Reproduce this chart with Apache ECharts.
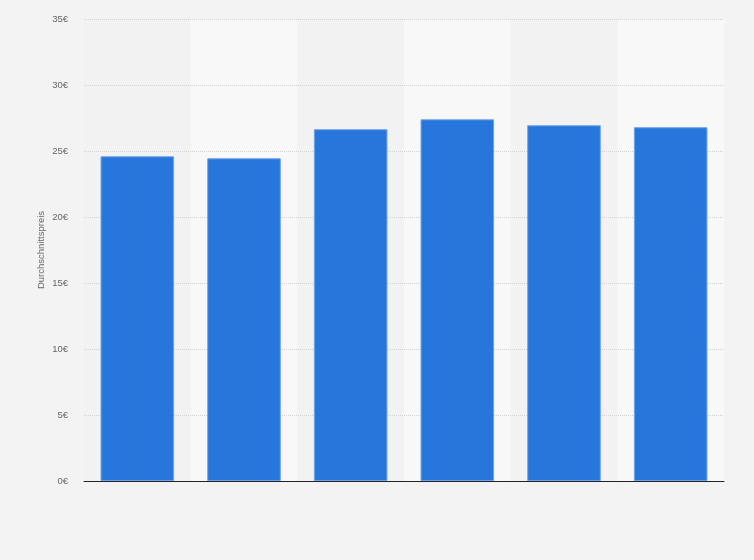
<!DOCTYPE html>
<html>
<head>
<meta charset="utf-8">
<script src="https://cdn.jsdelivr.net/npm/echarts@6/dist/echarts.min.js"></script>
<style>
  html, body { margin: 0; padding: 0; background: #f3f3f3; }
  #chart { width: 754px; height: 560px; }
</style>
</head>
<body>
<div id="chart"></div>
<script>
// Kategorien (im Original ohne Beschriftung)
const categories = ["1", "2", "3", "4", "5", "6"];
const prices = [24.6, 24.45, 26.65, 27.4, 26.95, 26.8];
const yTicks = [0, 5, 10, 15, 20, 25, 30, 35];

const chart = echarts.init(document.getElementById("chart"));

const option = {
  backgroundColor: "#f3f3f3",
  animation: false,
  grid: { left: 84, right: 30, top: 19, bottom: 79 },
  xAxis: [
    {
      type: "category",
      z: 3,
      data: categories,
      axisLine: { lineStyle: { color: "#222", width: 1 } },
      axisTick: { show: false },
      axisLabel: { show: false }
    },
    // zweite x-Achse nur für die Hintergrundstreifen (unter den Gitterlinien)
    {
      type: "category",
      z: 0,
      data: categories,
      axisLine: { show: false },
      axisTick: { show: false },
      axisLabel: { show: false },
      splitArea: {
        show: true,
        areaStyle: { color: ["#f2f2f2", "#f8f8f8"] }
      }
    }
  ],
  yAxis: {
    type: "value",
    z: 1,
    min: yTicks[0],
    max: yTicks[yTicks.length - 1],
    interval: 5,
    name: "Durchschnittspreis",
    nameLocation: "middle",
    nameMoveOverlap: false,
    nameGap: 38,
    nameTextStyle: { color: "#666", fontSize: 9.5, fontFamily: "Liberation Sans" },
    axisLine: { show: false },
    axisTick: { show: false },
    axisLabel: {
      color: "#666",
      fontSize: 9.5,
      fontFamily: "Liberation Sans",
      margin: 16,
      formatter: v => v + "€"
    },
    splitLine: { lineStyle: { color: "#d2d2d2", type: [1, 1], width: 1 } }
  },
  series: [
    {
      type: "bar",
      z: 2,
      data: prices,
      barWidth: "69%",
      itemStyle: {
        color: "#2776dc",
        borderColor: "#6fa3ea",
        borderWidth: 1
      }
    }
  ]
};

chart.setOption(option);
</script>
</body>
</html>
